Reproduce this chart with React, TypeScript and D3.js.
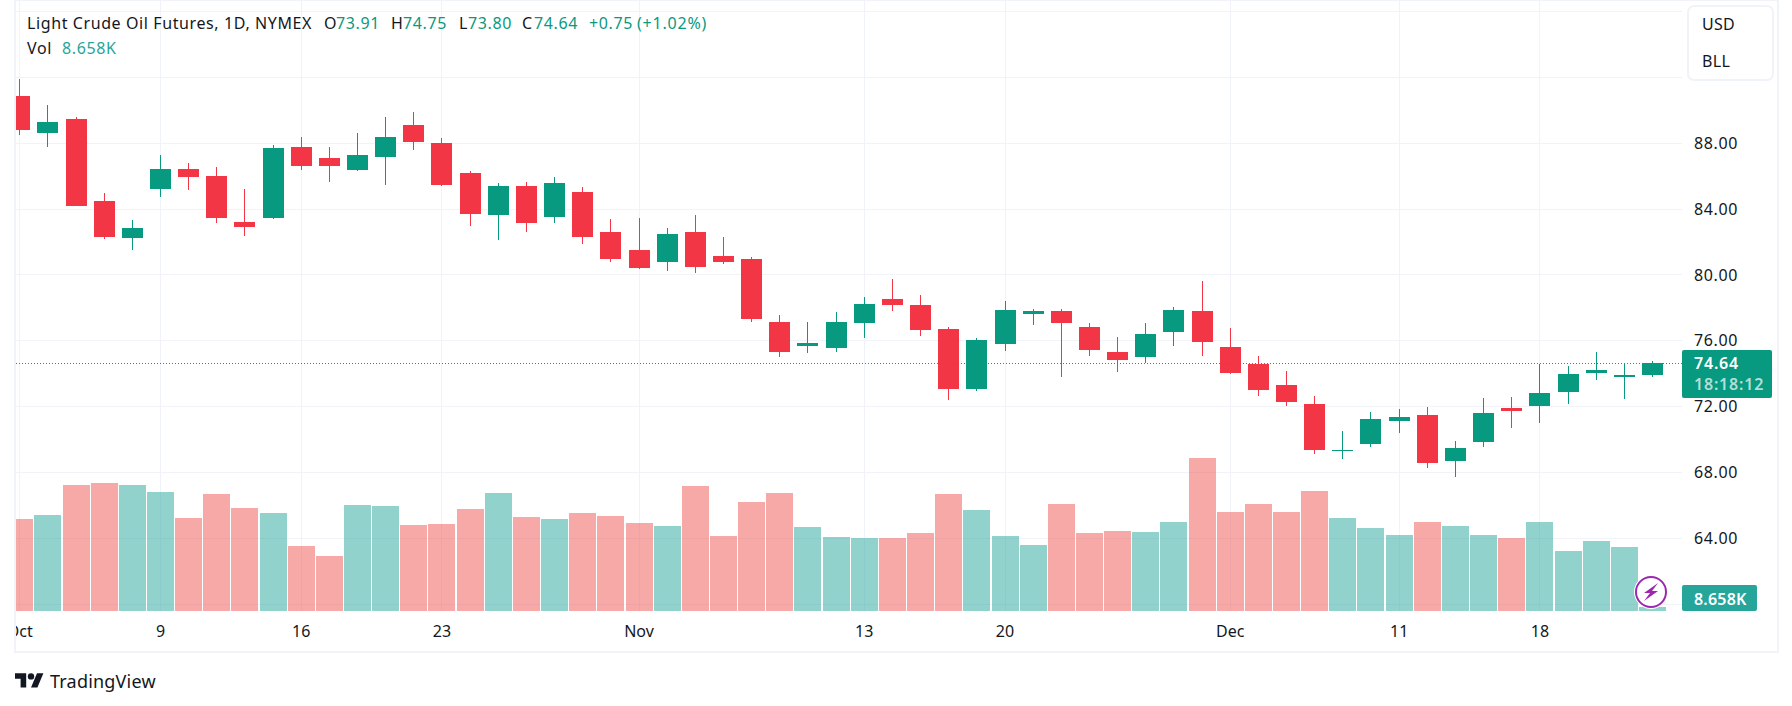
import * as d3 from 'd3';
import React, { useEffect, useRef } from 'react';

// daily bars, Oct 2 - Dec 22
const opens = [
  90.87, 88.63, 89.47, 84.51, 82.26, 85.23, 86.44, 86.02, 83.23, 83.47,
  87.78, 87.11, 86.38, 87.17, 89.11, 88.02, 86.2, 83.66, 85.41, 83.54,
  85.05, 82.63, 81.54, 80.81, 82.63, 81.17, 80.99, 77.17, 75.66, 75.54,
  77.11, 78.51, 78.2, 76.69, 73.05, 75.78, 77.6, 77.78, 76.81, 75.29,
  74.99, 76.51, 77.78, 75.6, 74.57, 73.29, 72.14, 69.29, 69.72, 71.11,
  71.47, 68.69, 69.84, 71.9, 72.02, 72.87, 74.02, 73.78, 73.91,
];
const closes = [
  88.81, 89.29, 84.2, 82.32, 82.87, 86.44, 85.96, 83.47, 82.93, 87.72,
  86.63, 86.63, 87.29, 88.38, 88.08, 85.47, 83.72, 85.41, 83.17, 85.6,
  82.32, 80.99, 80.44, 82.51, 80.51, 80.81, 77.35, 75.35, 75.84, 77.17,
  78.26, 78.2, 76.63, 73.05, 76.02, 77.84, 77.78, 77.05, 75.47, 74.81,
  76.44, 77.84, 75.9, 74.02, 72.99, 72.26, 69.35, 69.35, 71.23, 71.35,
  68.57, 69.47, 71.6, 71.72, 72.81, 73.96, 74.2, 73.9, 74.64,
];
const highs = [
  91.9, 90.32, 89.6, 84.99, 83.35, 87.29, 86.81, 86.57, 85.23, 87.9,
  88.38, 87.78, 88.63, 89.6, 89.9, 88.32, 86.32, 85.6, 85.66, 85.96,
  85.35, 83.41, 83.47, 82.87, 83.66, 82.32, 81.11, 77.54, 77.17, 77.72,
  78.63, 79.78, 78.75, 76.81, 76.2, 78.44, 77.9, 77.96, 77.11, 76.26,
  77.05, 78.08, 79.6, 76.75, 75.05, 74.14, 72.63, 70.51, 71.66, 71.84,
  71.96, 69.9, 72.51, 72.57, 74.61, 74.44, 75.35, 74.61, 74.75,
];
const lows = [
  88.51, 87.78, 84.18, 82.2, 81.54, 84.75, 85.17, 83.17, 82.38, 83.41,
  86.38, 85.66, 86.32, 85.47, 87.6, 85.41, 82.99, 82.14, 82.63, 83.17,
  81.9, 80.81, 80.38, 80.26, 80.14, 80.69, 77.17, 74.99, 75.23, 75.29,
  76.2, 77.78, 76.32, 72.38, 72.93, 75.41, 76.93, 73.78, 75.05, 74.08,
  74.63, 75.66, 75.05, 73.96, 72.63, 72.02, 69.11, 68.81, 69.54, 70.38,
  68.26, 67.72, 69.54, 70.69, 70.99, 72.14, 73.6, 72.44, 73.8,
];
// volume in K
const volumes = [
  199.1, 207.8, 272.7, 277.1, 272.7, 257.6, 201.3, 253.2, 222.9, 212.1,
  140.7, 119.0, 229.4, 227.3, 186.1, 188.3, 220.8, 255.4, 203.5, 199.1,
  212.1, 205.6, 190.5, 184.0, 270.6, 162.3, 235.9, 255.4, 181.8, 160.2,
  158.0, 158.0, 168.8, 253.2, 218.6, 162.3, 142.9, 231.6, 168.8, 173.2,
  171.0, 192.6, 331.2, 214.3, 231.6, 214.3, 259.7, 201.3, 179.7, 164.5,
  192.6, 184.0, 164.5, 158.0, 192.6, 129.9, 151.5, 138.5, 8.658,
];
const priceTicks = [88, 84, 80, 76, 72, 68, 64];
const gridPrices = [96, 92, 88, 84, 80, 76, 72, 68, 64, 60];
const timeTickBars = [0, 5, 10, 15, 22, 30, 35, 43, 49, 54];
const timeTickLabels = ['Oct', '9', '16', '23', 'Nov', '13', '20', 'Dec', '11', '18'];
const lastPrice = 74.64;

const UP = '#089981';
const DOWN = '#f23645';
const VOL_UP = '#26a69a';
const VOL_DOWN = '#ef5350';
const GRID = '#f0f3fa';
const TEXT = '#131722';
const FONT = '"Noto Sans", sans-serif';

const width = 1792;
const height = 706;
const plot = { left: 16, right: 1682, top: 1, bottom: 611 };

export default function App() {
  const svgRef = useRef<SVGSVGElement>(null);

  useEffect(() => {
    if (!svgRef.current) return;
    const svg = d3.select(svgRef.current);
    svg.selectAll('*').remove();
    svg.attr('width', width).attr('height', height);

    const x = d3.scaleLinear().domain([0, 58]).range([19.2, 1652]);
    const y = d3.scaleLinear().domain([96, 60]).range([11.35, 604.35]);
    const yVol = d3.scaleLinear().domain([0, 331.2]).range([plot.bottom, 458]);
    const bar = (i: number) => Math.round(x(i));

    svg.append('rect').attr('width', width).attr('height', height).attr('fill', '#fff');

    svg.append('defs').append('clipPath').attr('id', 'pane')
      .append('rect')
      .attr('x', plot.left).attr('y', 0)
      .attr('width', plot.right - plot.left).attr('height', 650);

    // Chart frame
    svg.append('rect')
      .attr('x', 15).attr('y', 0)
      .attr('width', 1763).attr('height', 652)
      .attr('fill', 'none')
      .attr('stroke', GRID)
      .attr('stroke-width', 2);

    // Grid
    const grid = svg.append('g').attr('stroke', GRID).attr('stroke-width', 1);
    grid.selectAll('.h').data(gridPrices).join('line')
      .attr('x1', plot.left).attr('x2', plot.right)
      .attr('y1', d => Math.floor(y(d)) + 0.5)
      .attr('y2', d => Math.floor(y(d)) + 0.5);
    grid.selectAll('.v').data(timeTickBars).join('line')
      .attr('x1', d => bar(d) + 0.5).attr('x2', d => bar(d) + 0.5)
      .attr('y1', plot.top).attr('y2', plot.bottom);

    const pane = svg.append('g').attr('clip-path', 'url(#pane)');

    // Volume
    pane.append('g').selectAll('rect').data(volumes).join('rect')
      .attr('x', (_, i) => bar(i) - 13)
      .attr('width', 27)
      .attr('y', d => Math.round(yVol(d)))
      .attr('height', d => plot.bottom - Math.round(yVol(d)))
      .attr('fill', (_, i) => (closes[i] >= opens[i] ? VOL_UP : VOL_DOWN))
      .attr('opacity', 0.5);

    // Last price line
    svg.append('line')
      .attr('x1', plot.left).attr('x2', plot.right)
      .attr('y1', Math.floor(y(lastPrice)) + 0.5)
      .attr('y2', Math.floor(y(lastPrice)) + 0.5)
      .attr('stroke', UP)
      .attr('stroke-width', 1)
      .attr('stroke-dasharray', '1,2');

    // Candles
    const candle = pane.append('g').selectAll('g').data(opens).join('g')
      .attr('fill', (_, i) => (closes[i] >= opens[i] ? UP : DOWN));
    candle.append('rect')
      .attr('x', (_, i) => bar(i))
      .attr('width', 1)
      .attr('y', (_, i) => Math.round(y(highs[i])))
      .attr('height', (_, i) => Math.round(y(lows[i])) - Math.round(y(highs[i])));
    candle.append('rect')
      .attr('x', (_, i) => bar(i) - 10)
      .attr('width', 21)
      .attr('y', (d, i) => Math.round(y(Math.max(d, closes[i]))))
      .attr('height', (d, i) =>
        Math.max(1, Math.round(y(Math.min(d, closes[i]))) - Math.round(y(Math.max(d, closes[i])))));

    // Price axis
    const priceAxis = svg.append('g')
      .attr('transform', `translate(${plot.right},0)`)
      .call(d3.axisRight(y).tickValues(priceTicks).tickSize(0).tickPadding(12)
        .tickFormat(d => d3.format('.2f')(d as number)));
    priceAxis.select('.domain').remove();
    priceAxis.selectAll('text')
      .attr('fill', TEXT)
      .style('font-family', FONT)
      .style('font-size', '16px')
      .style('letter-spacing', '0.6px');

    // Time axis
    const timeAxis = svg.append('g')
      .attr('clip-path', 'url(#pane)')
      .append('g')
      .attr('transform', `translate(0,${plot.bottom + 15})`)
      .call(d3.axisBottom(x).tickValues(timeTickBars).tickSize(0).tickPadding(0)
        .tickFormat((_, i) => timeTickLabels[i]));
    timeAxis.select('.domain').remove();
    timeAxis.selectAll('text')
      .attr('fill', TEXT)
      .style('font-family', FONT)
      .style('font-size', '16px');

    const label = (parent: any, tx: number, ty: number, str: string, fill = TEXT, size = 16, spacing = 0.6) =>
      parent.append('text')
        .attr('x', tx).attr('y', ty)
        .attr('dominant-baseline', 'central')
        .attr('fill', fill)
        .style('font-family', FONT)
        .style('font-size', `${size}px`)
        .style('letter-spacing', `${spacing}px`)
        .text(str);

    // Price badge
    svg.append('rect')
      .attr('x', plot.right).attr('y', 350)
      .attr('width', 90).attr('height', 48)
      .attr('rx', 2)
      .attr('fill', UP);
    label(svg, 1694, 363, d3.format('.2f')(lastPrice), '#fff', 16, 0.8).style('font-weight', 600);
    label(svg, 1694, 384, '18:18:12', 'rgba(255,255,255,0.7)', 16, 0.8).style('font-weight', 600);

    // Volume badge
    svg.append('rect')
      .attr('x', plot.right).attr('y', 585)
      .attr('width', 75).attr('height', 26)
      .attr('rx', 2)
      .attr('fill', VOL_UP);
    label(svg, 1694, 599, '8.658K', '#fff', 16, 0.2).style('font-weight', 600);

    // Currency / unit box
    svg.append('rect')
      .attr('x', 1688).attr('y', 6)
      .attr('width', 85).attr('height', 74)
      .attr('rx', 6)
      .attr('fill', '#fff')
      .attr('stroke', GRID)
      .attr('stroke-width', 2);
    label(svg, 1702, 24, 'USD', TEXT, 16, 0.3);
    label(svg, 1702, 61, 'BLL', TEXT, 16, 0.3);

    // Legend
    label(svg, 27, 23, 'Light Crude Oil Futures, 1D, NYMEX');
    label(svg, 324, 23, 'O');
    label(svg, 336, 23, '73.91', UP);
    label(svg, 391, 23, 'H');
    label(svg, 403, 23, '74.75', UP);
    label(svg, 459, 23, 'L');
    label(svg, 468, 23, '73.80', UP);
    label(svg, 522, 23, 'C');
    label(svg, 534, 23, '74.64', UP);
    label(svg, 589, 23, '+0.75', UP);
    label(svg, 637, 23, '(+1.02%)', UP, 16, 0.8);
    label(svg, 27, 48, 'Vol');
    label(svg, 62, 48, '8.658K', VOL_UP);

    // Lightning marker
    const marker = svg.append('g').attr('transform', 'translate(1651,592)');
    marker.append('circle').attr('r', 17).attr('fill', '#fff');
    marker.append('circle').attr('r', 15).attr('fill', '#fff')
      .attr('stroke', '#9c27b0').attr('stroke-width', 2);
    marker.append('path')
      .attr('d', 'M7,-9 L-7,1 L-1,1 L-7,9 L7,-1 L1,-1 Z')
      .attr('fill', '#9c27b0');

    // TradingView logo
    svg.append('g')
      .attr('transform', 'translate(15,670) scale(0.8)')
      .attr('fill', TEXT)
      .call(g => g.append('path').attr('d', 'M14 22H7V11H0V4h14v18zM28 22h-8l7.5-18h8L28 22z'))
      .call(g => g.append('circle').attr('cx', 20).attr('cy', 8).attr('r', 4));
    label(svg, 50, 681, 'TradingView', TEXT, 18, 0.2);
  }, []);

  return <svg ref={svgRef} style={{ position: 'absolute', left: 0, top: 0, display: 'block' }} />;
}
